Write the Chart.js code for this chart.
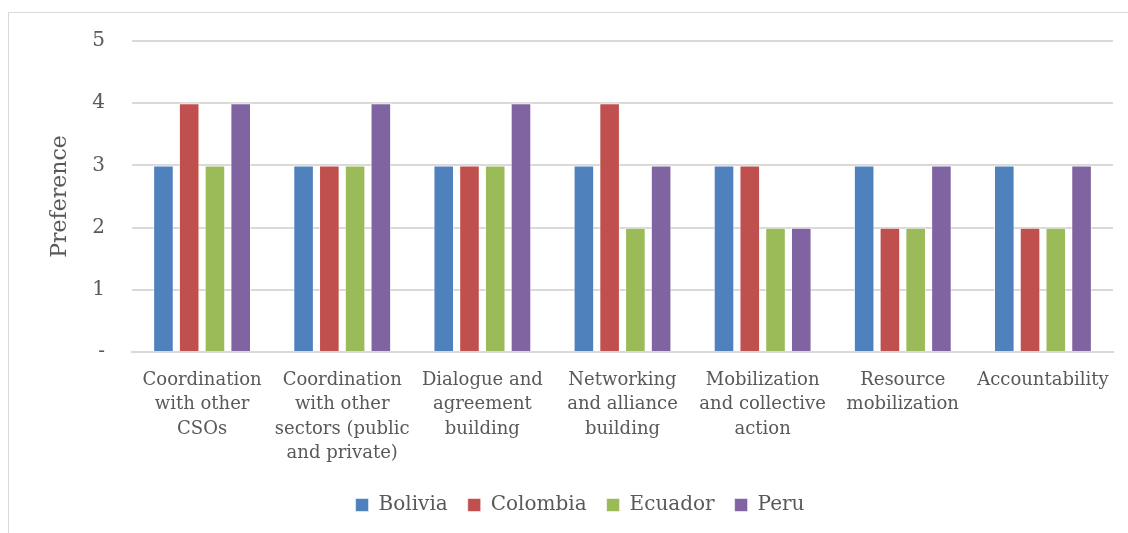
<!DOCTYPE html>
<html>
<head>
<meta charset="utf-8">
<script src="https://cdn.jsdelivr.net/npm/chart.js@4/dist/chart.umd.min.js"></script>
<style>
  html, body { margin: 0; padding: 0; background: #fff; overflow: hidden; }
  #wrap { position: relative; width: 1128px; height: 533px; }
  #frame { position: absolute; left: 8px; top: 12px; width: 1200px; height: 600px;
           border: 1.5px solid #D9D9D9; box-sizing: border-box; }
  canvas { position: absolute; left: 0; top: 0; }
</style>
</head>
<body>
<div id="wrap">
  <div id="frame"></div>
  <canvas id="c" width="1128" height="533"></canvas>
</div>
<script>
const categories = [
  ["Coordination", "with other", "CSOs"],
  ["Coordination", "with other", "sectors (public", "and private)"],
  ["Dialogue and", "agreement", "building"],
  ["Networking", "and alliance", "building"],
  ["Mobilization", "and collective", "action"],
  ["Resource", "mobilization"],
  ["Accountability"]
];
const bolivia  = [3, 3, 3, 3, 3, 3, 3];
const colombia = [4, 3, 3, 4, 3, 2, 2];
const ecuador  = [3, 3, 3, 2, 2, 2, 2];
const peru     = [4, 4, 4, 3, 2, 3, 3];
const yTicks   = [0, 1, 2, 3, 4, 5];

const FONT = "'DejaVu Serif', 'Liberation Serif', serif";
const TEXT = '#595959';

function series(label, data, color) {
  return { label, data, backgroundColor: color, borderColor: 'rgba(255,255,255,0.55)', borderWidth: 1,
           categoryPercentage: 0.735, barPercentage: 0.8 };
}

new Chart(document.getElementById('c'), {
  type: 'bar',
  data: {
    labels: categories,
    datasets: [
      series('Bolivia', bolivia, '#4F81BD'),
      series('Colombia', colombia, '#C0504D'),
      series('Ecuador', ecuador, '#9BBB59'),
      series('Peru', peru, '#8064A2')
    ]
  },
  options: {
    responsive: false,
    animation: false,
    layout: { padding: { left: 47, right: 15, top: 41, bottom: 8 } },
    plugins: {
      tooltip: { enabled: false },
      legend: {
        position: 'bottom',
        labels: {
          color: TEXT,
          font: { family: FONT, size: 20 },
          boxWidth: 13, boxHeight: 13, padding: 20
        }
      }
    },
    scales: {
      x: {
        grid: { display: false, drawTicks: false },
        border: { color: '#D9D9D9', width: 2 },
        ticks: { color: TEXT, font: { family: FONT, size: 18, lineHeight: 1.36 },
                 maxRotation: 0, autoSkip: false, padding: 16 },
        // tighten the label band so the legend sits just below the wrapped labels
        afterFit: axis => { axis.height -= 7; }
      },
      y: {
        min: 0, max: 5,
        afterBuildTicks: axis => { axis.ticks = yTicks.map(v => ({ value: v })); },
        afterFit: axis => { axis.width = 85; },
        grid: { color: '#D9D9D9', lineWidth: 2, drawTicks: false },
        border: { display: false },
        ticks: {
          color: TEXT, font: { family: FONT, size: 20 }, padding: 27,
          callback: v => v === 0 ? '-' : String(v)
        },
        title: { display: true, text: 'Preference', color: TEXT,
                 font: { family: FONT, size: 22 }, padding: { top: 0, bottom: 0 } }
      }
    }
  }
});
</script>
</body>
</html>
